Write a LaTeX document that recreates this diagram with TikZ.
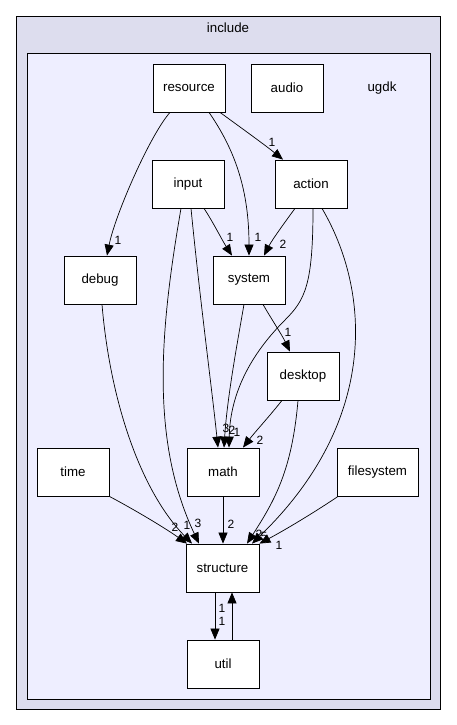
\documentclass[tikz,border=0pt]{standalone}
\usepackage{fontspec}
\setmainfont{Liberation Sans}
\usetikzlibrary{arrows.meta}
\definecolor{outerfill}{HTML}{DDDDEE}
\definecolor{innerfill}{HTML}{EEEEFF}
\tikzset{
  dirbox/.style={draw=black, fill=white, line width=0.8pt, minimum width=72pt, minimum height=48pt, inner sep=0pt, font=\fontsize{13.3}{15}\selectfont},
  edge/.style={draw=black, line width=0.7pt, -{Triangle[length=11pt,width=9pt]}},
  lbl/.style={inner sep=0pt, font=\fontsize{12}{13}\selectfont},
  cluster/.style={draw=black, line width=0.8pt}
}
\begin{document}
\begin{tikzpicture}[x=1pt,y=-1pt]
\useasboundingbox (0,0) rectangle (456,725);
\fill[white] (0,0) rectangle (456,725);
% clusters
\draw[cluster, fill=outerfill] (16,16) rectangle (440,709);
\node[lbl, font=\fontsize{13.3}{15}\selectfont] (includelbl) at (228,28) {include};
\draw[cluster, fill=innerfill] (27,53) rectangle (430,699);
\node[lbl, font=\fontsize{13.3}{15}\selectfont] (ugdklbl) at (382,88) {ugdk};
% nodes
\node[dirbox] (resource) at (189,88) {resource};
\node[dirbox] (audio) at (287,88) {audio};
\node[dirbox] (input) at (188,184) {input};
\node[dirbox] (action) at (311,184) {action};
\node[dirbox] (debug) at (100,280) {debug};
\node[dirbox] (system) at (249,280) {system};
\node[dirbox] (desktop) at (303,376) {desktop};
\node[dirbox] (time) at (73,472) {time};
\node[dirbox] (math) at (223,472) {math};
\node[dirbox, minimum width=81pt] (filesystem) at (377.5,472) {filesystem};
\node[dirbox, minimum width=73pt] (structure) at (222.5,568) {structure};
\node[dirbox] (util) at (223,664) {util};
% edges
\draw[edge] ([xshift=-19pt]resource.south) .. controls (150,135) and (115,215) .. ([xshift=7pt]debug.north);
\node[lbl] at (118,240) {1};
\draw[edge] ([xshift=20pt]resource.south) .. controls (235,150) and (249,190) .. (system.north);
\node[lbl] at (258,237) {1};
\draw[edge] ([xshift=31pt]resource.south) .. controls (240,127) and (265,145) .. ([xshift=-28pt]action.north);
\node[lbl] at (272,142) {1};
\draw[edge] ([xshift=16pt]input.south) .. controls (213,222) and (222,240) .. ([xshift=-17pt]system.north);
\node[lbl] at (230,237) {1};
\draw[edge] ([xshift=3pt]input.south) .. controls (200,300) and (212,390) .. ([xshift=-5pt]math.north);
\draw[edge] ([xshift=-7pt]input.south) .. controls (160,330) and (150,440) .. ([xshift=-23.5pt]structure.north);
\draw[edge] ([xshift=-16pt]action.south) .. controls (285,222) and (272,240) .. ([xshift=15pt]system.north);
\node[lbl] at (283,244) {2};
\draw[edge] ([xshift=2pt]action.south) .. controls (313,285) and (305,300) .. (285,320) .. controls (245,360) and (230,400) .. ([xshift=6pt]math.north);
\draw[edge] ([xshift=11pt]action.south) .. controls (370,290) and (380,420) .. ([xshift=29.5pt]structure.north);
\draw[edge] ([xshift=2pt]debug.south) .. controls (110,400) and (140,490) .. ([xshift=-30.5pt]structure.north);
\draw[edge] (time.south east) .. controls (135,510) and (165,528) .. ([xshift=-35.5pt]structure.north);
\draw[edge] (math.south) -- ([xshift=0.5pt]structure.north);
\node[lbl] at (231,524) {2};
\draw[edge] ([xshift=-5pt]system.south) .. controls (236,350) and (227,400) .. ([xshift=1pt]math.north);
\draw[edge] ([xshift=14pt]system.south) .. controls (272,320) and (282,335) .. ([xshift=-13pt]desktop.north);
\node[lbl] at (288,332) {1};
\draw[edge] ([xshift=-21pt]desktop.south) .. controls (268,418) and (255,432) .. ([xshift=20pt]math.north);
\node[lbl] at (260,440) {2};
\draw[edge] ([xshift=-5pt]desktop.south) .. controls (292,470) and (275,500) .. ([xshift=24.5pt]structure.north);
\draw[edge] ([xshift=-39.5pt]filesystem.south) .. controls (315,512) and (285,530) .. (structure.north east);
\node[lbl] at (279,545) {1};
\draw[edge] ([xshift=-7.5pt]structure.south) -- ([xshift=-8pt]util.north);
\draw[edge] ([xshift=9pt]util.north) -- ([xshift=9.5pt]structure.south);
\node[lbl] at (222,608) {1};
\node[lbl] at (222,621) {1};
% labels near math
\node[lbl] at (226,428) {3};
\node[lbl] at (232,430) {2};
\node[lbl] at (237,432) {1};
% labels near structure
\node[lbl] at (175,527) {2};
\node[lbl] at (187,525) {1};
\node[lbl] at (198,523) {3};
\node[lbl] at (259,534) {2};
\node[lbl] at (264,536) {5};
\end{tikzpicture}
\end{document}
